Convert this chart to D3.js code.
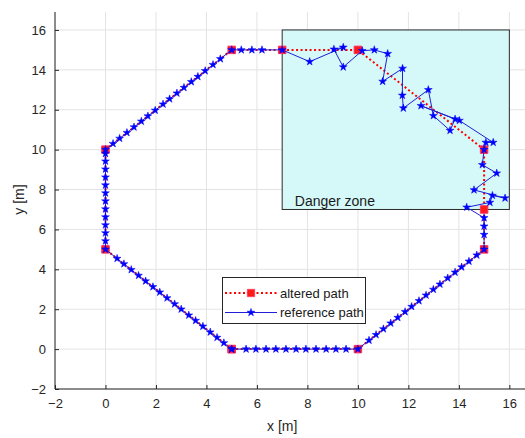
<!DOCTYPE html>
<html>
<head>
<meta charset="utf-8">
<script src="https://cdn.jsdelivr.net/npm/d3@7"></script>
<style>
  body { margin: 0; background: #fff; }
  text { font-family: "Liberation Sans", Arial, sans-serif; }
</style>
</head>
<body>
<div id="chart"></div>
<script>
const width = 525, height = 438;

// ticks
const xTicks = [-2, 0, 2, 4, 6, 8, 10, 12, 14, 16];
const yTicks = [-2, 0, 2, 4, 6, 8, 10, 12, 14, 16];

// danger zone corners (data units)
const dangerX = [7, 16];
const dangerY = [7, 16];

// altered path (red, squares)
const alteredPath = [[5,0],[10,0],[15,5],[15,7],[15,10],[10,15],[7,15],[5,15],[0,10],[0,5],[5,0]];

// reference path (blue, stars)
const referencePath = [
  [5,0],[5.57,0],[5.96,0],[6.36,0],[6.75,0],[7.15,0],[7.55,0],[7.94,0],[8.34,0],[8.74,0],[9.13,0],[9.53,0],[10,0],
  [10.44,0.44],[10.72,0.72],[11.01,1.01],[11.30,1.30],[11.58,1.58],[11.87,1.87],[12.13,2.13],[12.42,2.42],
  [12.70,2.70],[12.99,2.99],[13.25,3.25],[13.56,3.56],[13.85,3.85],[14.11,4.11],[14.40,4.40],[14.71,4.71],[15,5],
  [15,5.74],[15,6.16],[15,6.58],
  [14.31,7.11],[15.23,7.35],[15.33,7.70],[15.83,7.57],[14.60,7.98],[15.50,8.82],[14.93,9.24],[15.00,10.00],
  [15.07,10.36],[15.36,10.36],[14.02,11.46],[12.50,12.20],[13.85,11.53],[13.65,10.96],[12.99,11.70],[12.79,13.00],
  [11.80,12.08],[11.76,12.72],[11.77,14.07],[10.98,13.42],[11.18,14.81],[10.65,15.00],[10.17,14.96],[9.42,14.14],
  [9.05,15.03],[9.42,15.13],[8.09,14.41],[7,15],
  [6.20,15],[5.80,15],[5.38,15],[5,15],
  [4.55,14.55],[4.26,14.26],[3.95,13.95],[3.66,13.66],[3.40,13.40],[3.11,13.11],[2.83,12.83],[2.54,12.54],
  [2.28,12.28],[1.97,11.97],[1.68,11.68],[1.42,11.42],[1.13,11.13],[0.85,10.85],[0.56,10.56],[0.30,10.30],[0,10],
  [0,9.80],[0,9.42],[0,9.02],[0,8.62],[0,8.22],[0,7.82],[0,7.42],[0,7.02],[0,6.62],[0,6.22],[0,5.82],[0,5.42],[0,5],
  [0.46,4.54],[0.73,4.27],[1.02,3.98],[1.31,3.69],[1.59,3.41],[1.88,3.12],[2.15,2.85],[2.44,2.56],
  [2.74,2.26],[3.00,2.00],[3.30,1.70],[3.57,1.43],[3.86,1.14],[4.15,0.85],[4.42,0.58],[4.69,0.31],[5,0]
];

const legendLabels = ["altered path", "reference path"];

const margin = { left: 55, right: 0, top: 12, bottom: 49 };
const x = d3.scaleLinear().domain([-2, 16.62]).range([margin.left, width - margin.right]);
const y = d3.scaleLinear().domain([-2, 16.9]).range([height - margin.bottom, margin.top]);

const svg = d3.select("#chart").append("svg")
  .attr("width", width)
  .attr("height", height);

const axisColor = "#262626";

// grid
svg.append("g").selectAll("line")
  .data(xTicks)
  .join("line")
  .attr("x1", d => x(d)).attr("x2", d => x(d))
  .attr("y1", y.range()[0]).attr("y2", y.range()[1])
  .attr("stroke", "#e3e3e3").attr("stroke-width", 1);
svg.append("g").selectAll("line")
  .data(yTicks)
  .join("line")
  .attr("x1", x.range()[0]).attr("x2", x.range()[1])
  .attr("y1", d => y(d)).attr("y2", d => y(d))
  .attr("stroke", "#e3e3e3").attr("stroke-width", 1);

// danger zone
svg.append("rect")
  .attr("x", x(dangerX[0]))
  .attr("y", y(dangerY[1]))
  .attr("width", x(dangerX[1]) - x(dangerX[0]))
  .attr("height", y(dangerY[0]) - y(dangerY[1]))
  .attr("fill", "#d5f8f8")
  .attr("stroke", "#2b2b2b")
  .attr("stroke-width", 1);

svg.append("text")
  .attr("x", x(7.5))
  .attr("y", y(7.4))
  .attr("dy", "0.35em")
  .style("font-size", "14px")
  .style("fill", "#1a1a1a")
  .text("Danger zone");

// axes (ticks point inward)
const xAxis = d3.axisBottom(x).tickValues(xTicks).tickSize(-4).tickPadding(10).tickFormat(d3.format("d"));
const yAxis = d3.axisLeft(y).tickValues(yTicks).tickSize(-4).tickPadding(9).tickFormat(d3.format("d"));

const gx = svg.append("g")
  .attr("transform", `translate(0,${y.range()[0]})`)
  .call(xAxis);
const gy = svg.append("g")
  .attr("transform", `translate(${x.range()[0]},0)`)
  .call(yAxis);

[gx, gy].forEach(g => {
  g.select(".domain").attr("stroke", axisColor).attr("stroke-width", 1);
  g.selectAll(".tick line").attr("stroke", axisColor);
  g.selectAll(".tick text")
    .style("font-size", "13px")
    .style("font-family", "'Liberation Sans', Arial, sans-serif")
    .attr("fill", axisColor);
});
gx.select(".domain").attr("d", `M${x.range()[0]},0H${x.range()[1]}`);
gy.select(".domain").attr("d", `M0,${y.range()[0]}V${y.range()[1]}`);

svg.append("text")
  .attr("x", x(7))
  .attr("y", 431)
  .attr("text-anchor", "middle")
  .style("font-size", "14px")
  .style("fill", axisColor)
  .text("x [m]");

svg.append("text")
  .attr("transform", `translate(24,${y(7.5)}) rotate(-90)`)
  .attr("text-anchor", "middle")
  .style("font-size", "14px")
  .style("fill", axisColor)
  .text("y [m]");

const line = d3.line().x(d => x(d[0])).y(d => y(d[1]));
const star = d3.symbol().type(d3.symbolStar).size(19);
const square = d3.symbol().type(d3.symbolSquare).size(56);

// altered path
svg.append("path")
  .datum(alteredPath)
  .attr("d", line)
  .attr("fill", "none")
  .attr("stroke", "#ff0000")
  .attr("stroke-width", 2)
  .attr("stroke-dasharray", "2 2.5");
svg.append("g").selectAll("path")
  .data(alteredPath)
  .join("path")
  .attr("transform", d => `translate(${x(d[0])},${y(d[1])})`)
  .attr("d", square)
  .attr("fill", "#ff1a1a")
  .attr("stroke", "#ff3060")
  .attr("stroke-width", 1);

// reference path
svg.append("path")
  .datum(referencePath)
  .attr("d", line)
  .attr("fill", "none")
  .attr("stroke", "#1f1fd6")
  .attr("stroke-width", 1);
svg.append("g").selectAll("path")
  .data(referencePath)
  .join("path")
  .attr("transform", d => `translate(${x(d[0])},${y(d[1])})`)
  .attr("d", star)
  .attr("fill", "#0000ff")
  .attr("stroke", "#0000ff")
  .attr("stroke-width", 0.5);

// legend
const lg = svg.append("g");
lg.append("rect")
  .attr("x", 222.5).attr("y", 277.5)
  .attr("width", 143).attr("height", 46)
  .attr("fill", "#fff")
  .attr("stroke", "#262626")
  .attr("stroke-width", 1);

const rows = lg.selectAll("g.row")
  .data(legendLabels)
  .join("g")
  .attr("class", "row")
  .attr("transform", (d, i) => `translate(0,${293 + i * 19.5})`);

rows.append("line")
  .attr("x1", 225).attr("x2", 277)
  .attr("stroke", (d, i) => i === 0 ? "#ff0000" : "#1f1fd6")
  .attr("stroke-width", (d, i) => i === 0 ? 2 : 1)
  .attr("stroke-dasharray", (d, i) => i === 0 ? "2 2.5" : null);

rows.append("path")
  .attr("transform", "translate(251,0)")
  .attr("d", (d, i) => i === 0 ? square() : star())
  .attr("fill", (d, i) => i === 0 ? "#ff1a1a" : "#0000ff")
  .attr("stroke", (d, i) => i === 0 ? "#ff3060" : "#0000ff")
  .attr("stroke-width", 0.5);

rows.append("text")
  .attr("x", 280)
  .attr("dy", "0.35em")
  .style("font-size", "13px")
  .style("fill", "#1a1a1a")
  .text(d => d);
</script>
</body>
</html>
